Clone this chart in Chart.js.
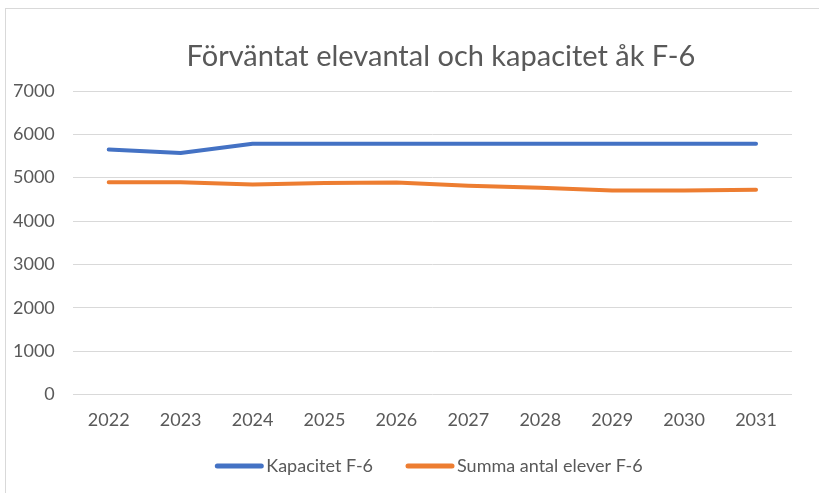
<!DOCTYPE html>
<html><head><meta charset="utf-8">
<script src="https://cdn.jsdelivr.net/npm/chart.js@4"></script>
<style>
html,body{margin:0;padding:0;background:#fff;overflow:hidden;}
#frame{position:absolute;left:5px;top:8px;width:900px;height:600px;border:1px solid #d9d9d9;box-sizing:border-box;}
#wrap{position:absolute;left:0;top:0;width:819px;height:493px;}
</style></head>
<body>
<div id="frame"></div>
<div id="wrap"><canvas id="c"></canvas></div>
<script>
const categories = ['2022','2023','2024','2025','2026','2027','2028','2029','2030','2031'];
const kapacitet = [5650, 5570, 5785, 5785, 5785, 5785, 5785, 5785, 5785, 5785];
const elever = [4895, 4895, 4845, 4875, 4890, 4815, 4765, 4705, 4705, 4720];
const yTicks = [0, 1000, 2000, 3000, 4000, 5000, 6000, 7000];
const titleText = 'Förväntat elevantal och kapacitet åk F-6';

const FONT = 'Lato, "Liberation Sans", sans-serif';

const titlePlugin = {
  id: 'offsetTitle',
  afterDraw(chart) {
    const ctx = chart.ctx;
    ctx.save();
    ctx.font = '29px ' + FONT;
    ctx.fillStyle = '#595959';
    ctx.textAlign = 'center';
    ctx.textBaseline = 'middle';
    ctx.fillText(titleText, 441, 57);
    ctx.restore();
  }
};

const legendPlugin = {
  id: 'excelLegend',
  afterDraw(chart) {
    const ctx = chart.ctx;
    const ds = chart.data.datasets;
    const lineLen = 48, gapText = 3, gapItem = 33, y = 466;
    ctx.save();
    ctx.font = '18px ' + FONT;
    const widths = ds.map(d => ctx.measureText(d.label).width);
    let total = 0;
    widths.forEach((w, i) => { total += lineLen + gapText + w + (i < ds.length - 1 ? gapItem : 0); });
    let x = 429 - total / 2;
    ds.forEach((d, i) => {
      ctx.strokeStyle = d.borderColor;
      ctx.lineWidth = 5;
      ctx.lineCap = 'round';
      ctx.beginPath();
      ctx.moveTo(x + 2, y);
      ctx.lineTo(x + lineLen - 2, y);
      ctx.stroke();
      ctx.fillStyle = '#595959';
      ctx.textAlign = 'left';
      ctx.textBaseline = 'middle';
      ctx.fillText(d.label, x + lineLen + gapText, y);
      x += lineLen + gapText + widths[i] + gapItem;
    });
    ctx.restore();
  }
};

new Chart(document.getElementById('c'), {
  type: 'line',
  data: {
    labels: categories,
    datasets: [
      {label: 'Kapacitet F-6', data: kapacitet, borderColor: '#4472c4', backgroundColor: '#4472c4', borderWidth: 4, pointRadius: 0, tension: 0, borderCapStyle: 'round', borderJoinStyle: 'round'},
      {label: 'Summa antal elever F-6', data: elever, borderColor: '#ed7d31', backgroundColor: '#ed7d31', borderWidth: 4, pointRadius: 0, tension: 0, borderCapStyle: 'round', borderJoinStyle: 'round'}
    ]
  },
  plugins: [titlePlugin, legendPlugin],
  options: {
    responsive: true,
    maintainAspectRatio: false,
    animation: false,
    devicePixelRatio: 1,
    layout: {padding: {left: -5, right: 27, top: 91, bottom: 55}},
    plugins: {
      title: {display: false},
      legend: {display: false},
      tooltip: {enabled: false}
    },
    scales: {
      x: {
        offset: true,
        grid: {display: false},
        border: {display: false},
        ticks: {color: '#595959', font: {family: FONT, size: 18}, padding: 7, maxRotation: 0}
      },
      y: {
        min: 0, max: 7000,
        afterBuildTicks: (s) => { s.ticks = yTicks.map(v => ({value: v})); },
        grid: {color: '#d9d9d9', lineWidth: 1, drawTicks: false},
        border: {display: false},
        ticks: {color: '#595959', font: {family: FONT, size: 18}, padding: 18, callback: (v) => String(v)}
      }
    }
  }
});
</script>
</body></html>
